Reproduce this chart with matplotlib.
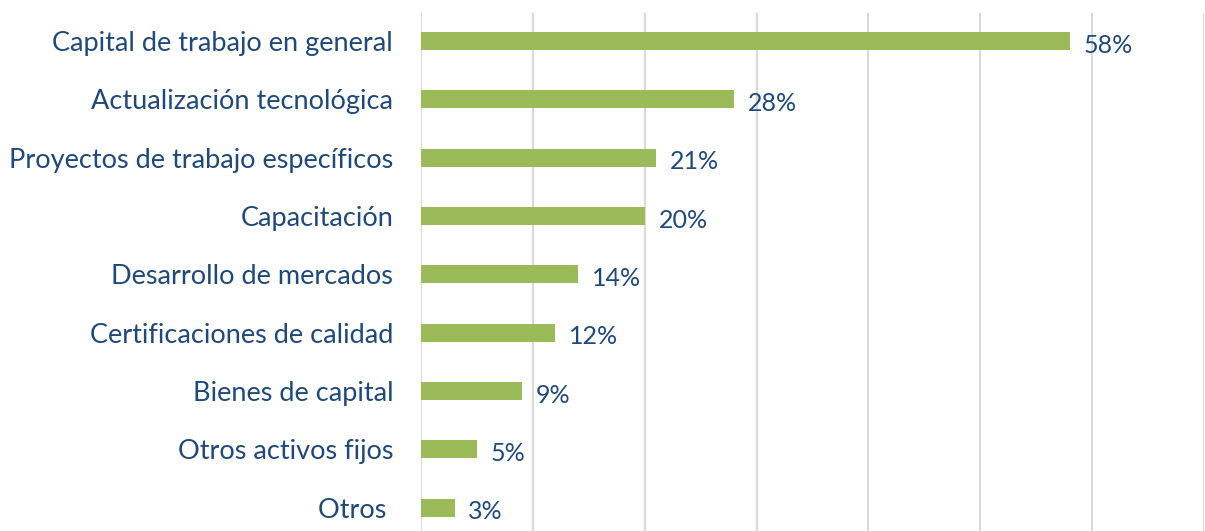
import matplotlib.pyplot as plt
import numpy as np

categories = [
    'Capital de trabajo en general',
    'Actualización tecnológica',
    'Proyectos de trabajo específicos',
    'Capacitación',
    'Desarrollo de mercados',
    'Certificaciones de calidad',
    'Bienes de capital',
    'Otros activos fijos',
    'Otros ',
]
values = [58, 28, 21, 20, 14, 12, 9, 5, 3]

text_color = '#1F497D'
bar_color = '#9BBB59'

plt.rcParams['font.family'] = ['Lato', 'DejaVu Sans']

fig = plt.figure(figsize=(12.05, 5.31), dpi=100)
ax = fig.add_axes([421 / 1205, 0, (1204 - 421) / 1205, (531 - 13) / 531])

y = np.arange(len(categories))
bars = ax.barh(y, values, height=0.31, color=bar_color, zorder=3)

for bar, v in zip(bars, values):
    ax.annotate(f'{v}%', (bar.get_width(), bar.get_y() + bar.get_height() / 2),
                xytext=(10, -3), textcoords='offset points',
                ha='left', va='center', fontsize=18, color=text_color)

ax.set_xlim(0, 70)
ax.set_ylim(len(categories) - 1 + 0.4, -0.48)
ax.set_xticks(np.arange(0, 71, 10))
ax.set_xticklabels([])
ax.set_yticks(y)
ax.set_yticklabels(categories, fontsize=19.5, color=text_color)
ax.tick_params(axis='both', length=0)
ax.tick_params(axis='y', pad=20)
ax.grid(axis='x', color='#D9D9D9', linewidth=1.5, zorder=0)
for s in ax.spines.values():
    s.set_visible(False)

fig.savefig('out.png', dpi=100)
